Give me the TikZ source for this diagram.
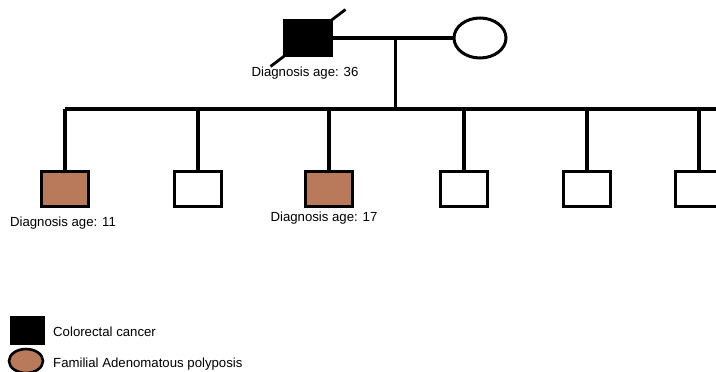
\documentclass[tikz,border=0pt]{standalone}
\usepackage{fontspec}
\setmainfont{Liberation Sans}
\usetikzlibrary{shapes, calc, positioning}
\definecolor{fapbrown}{RGB}{184,122,90}
\tikzstyle{male}=[draw,rectangle,line width=3pt,minimum width=47pt,minimum height=35pt,inner sep=0pt,fill=white]
\tikzstyle{female}=[draw,ellipse,line width=3pt,minimum width=52pt,minimum height=40pt,inner sep=0pt,fill=white]
\tikzstyle{label}=[font=\fontsize{13.2}{15}\selectfont,inner sep=0pt]
\tikzstyle{link}=[line width=3.2pt]

\begin{document}
\begin{tikzpicture}[x=1pt,y=-1pt]
    \useasboundingbox (0,0) rectangle (716,372);
    % parents
    \node[male, fill=black] (father) at (308,38) {};
    \node[female] (mother) at (480,38) {};
    \draw[line width=2.8pt] ($(father.south west)!-0.25!(father.north east)$) -- ($(father.north east)!-0.25!(father.south west)$);
    \node[label] (fage) at (305,73) {Diagnosis age: 36};
    \draw[link] (father.east) -- (mother.west);
    \coordinate (mid) at ($(father.east)!0.52!(mother.west)$);
    \coordinate (sib) at (mid |- 0,109);
    \draw[link] (mid) -- (sib);
    % children
    \node[male, fill=fapbrown] (c1) at (65,189) {};
    \node[male] (c2) at (198,189) {};
    \node[male, fill=fapbrown] (c3) at (329,189) {};
    \node[male] (c4) at (464,189) {};
    \node[male] (c5) at (587,189) {};
    \node[male] (c6) at (699,189) {};
    \coordinate (sibr) at (720,109);
    \draw[link] (c1.north |- sib) -- (sibr);
    \foreach \c in {c1,c2,c3,c4,c5,c6}
        \draw[link] (\c.north |- sib) -- (\c.north);
    \node[label] (age1) at (63,223) {Diagnosis age: 11};
    \node[label] (age3) at (324,218) {Diagnosis age: 17};
    % legend
    \node[draw,rectangle,fill=black,minimum width=34pt,minimum height=28pt,inner sep=0pt] (keycrc) at (27,330) {};
    \node[label, anchor=west] (txtcrc) at (53,332) {Colorectal cancer};
    \node[draw,ellipse,fill=fapbrown,line width=2.6pt,minimum width=34pt,minimum height=24pt,inner sep=0pt] (keyfap) at (26,361) {};
    \node[label, anchor=west] (txtfap) at (53,364) {Familial Adenomatous polyposis};
\end{tikzpicture}
\end{document}
